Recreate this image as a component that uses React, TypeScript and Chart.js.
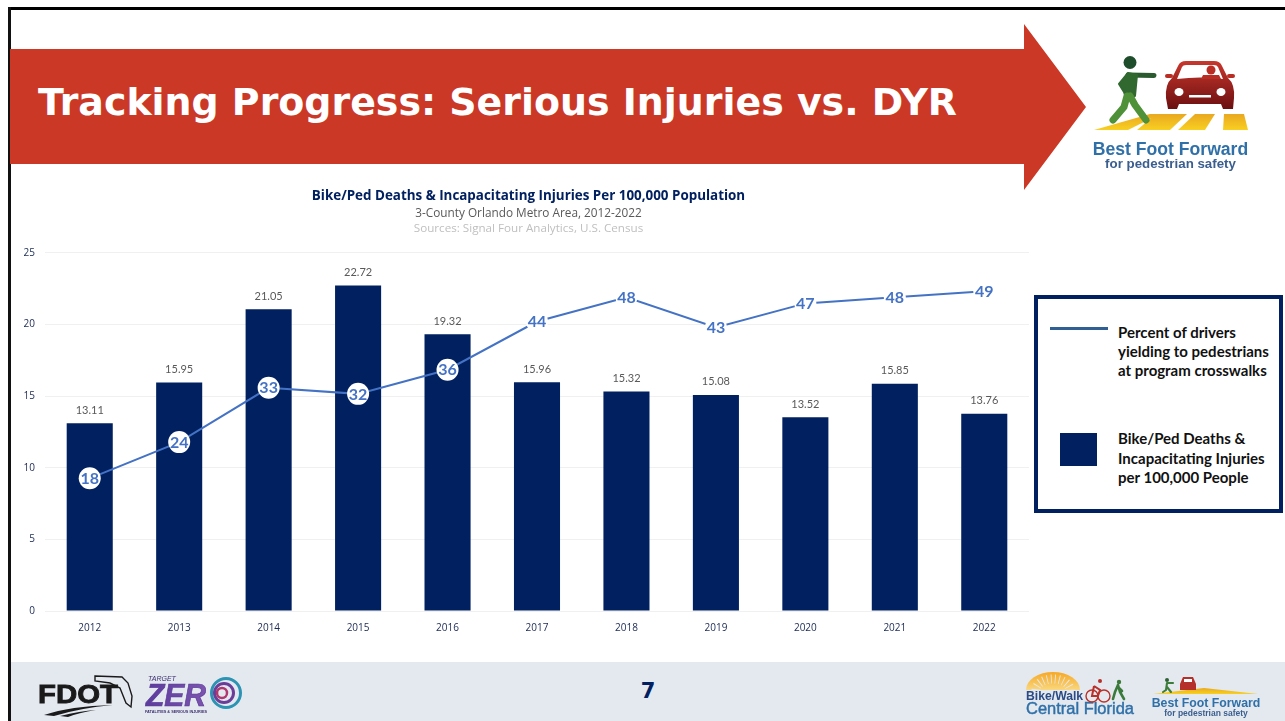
import React, { useEffect, useRef } from "react";
import { Chart, registerables } from "chart.js";

Chart.register(...registerables);

const years = ["2012", "2013", "2014", "2015", "2016", "2017", "2018", "2019", "2020", "2021", "2022"];
const injuryRates = [13.11, 15.95, 21.05, 22.72, 19.32, 15.96, 15.32, 15.08, 13.52, 15.85, 13.76];
const yieldingPercent = [18, 24, 33, 32, 36, 44, 48, 43, 47, 48, 49];
const yTicks = [0, 5, 10, 15, 20, 25];

const chartTitle = "Bike/Ped Deaths & Incapacitating Injuries Per 100,000 Population";
const chartSubtitle = "3-County Orlando Metro Area, 2012-2022";
const chartSources = "Sources: Signal Four Analytics, U.S. Census";
const lineLegend = ["Percent of drivers", "yielding to pedestrians", "at program crosswalks"];
const barLegend = ["Bike/Ped Deaths &", "Incapacitating Injuries", "per 100,000 People"];

const NAVY = "#002060";
const BLUE = "#4472C4";
const RED = "#CB3826";

const valueLabels = {
  id: "valueLabels",
  afterDatasetsDraw(chart: any) {
    const ctx = chart.ctx;
    ctx.save();
    ctx.textAlign = "center";
    ctx.textBaseline = "middle";
    ctx.font = "11px Lato";
    ctx.fillStyle = "#595959";
    chart.getDatasetMeta(0).data.forEach((el: any, i: number) => {
      ctx.fillText(injuryRates[i].toFixed(2), el.x, el.y - 13);
    });
    ctx.font = "bold 16px Lato";
    ctx.fillStyle = BLUE;
    chart.getDatasetMeta(1).data.forEach((el: any, i: number) => {
      ctx.fillText(String(yieldingPercent[i]), el.x, el.y + 0.5);
    });
    ctx.restore();
  },
};

function BestFootLogo() {
  return (
    <svg style={{ position: "absolute", left: 0, top: 0, filter: "blur(0.35px)" }} width={1285} height={721}>
      <defs>
        <linearGradient id="car" x1="0" y1="0" x2="0" y2="1">
          <stop offset="0" stopColor="#C8372D" />
          <stop offset="1" stopColor="#6B0F10" />
        </linearGradient>
        <linearGradient id="walk" x1="0" y1="0" x2="0" y2="1">
          <stop offset="0" stopColor="#E9A820" />
          <stop offset="1" stopColor="#F8D020" />
        </linearGradient>
        <linearGradient id="sun" x1="0" y1="0" x2="0" y2="1">
          <stop offset="0" stopColor="#F7A823" />
          <stop offset="1" stopColor="#F9D77E" />
        </linearGradient>
        <linearGradient id="zero" x1="0" y1="0" x2="1" y2="0">
          <stop offset="0" stopColor="#5B3B9B" />
          <stop offset="1" stopColor="#7D55B0" />
        </linearGradient>
      </defs>

      {/* crosswalk */}
      <polygon points="1094,130 1128,130 1160,114 1150,114" fill="url(#walk)" />
      <polygon points="1137,130 1170,130 1187,114 1156,114" fill="url(#walk)" />
      <polygon points="1178,130 1205,130 1215,114 1195,114" fill="url(#walk)" />
      <polygon points="1223,130 1248,130 1244,114 1224,114" fill="url(#walk)" />
      {/* pedestrian */}
      <circle cx={1130} cy={62.5} r={6.5} fill="#1E4D2B" />
      <path d="M1128 75 L1154 75.5" stroke="#2A5A2E" strokeWidth={5} strokeLinecap="round" fill="none" />
      <path d="M1119 84 L1128 73 L1137 75 L1135 96 L1126 98 L1124 92 Z" fill="#30682F" stroke="#30682F" strokeWidth={2} strokeLinejoin="round" />
      <path d="M1127 96 L1124 107 L1113 120 M1130 96 L1135 105 L1146 120" stroke="#4F9139" strokeWidth={7} strokeLinecap="round" strokeLinejoin="round" fill="none" />
      {/* car */}
      <path d="M1172 78 L1178 66 Q1180 61 1186 61 L1214 61 Q1220 61 1222 66 L1228 78 Q1235 84 1234 98 L1233 109 L1223 109 L1221 104 L1179 104 L1177 109 L1168 109 L1166 98 Q1165 84 1172 78 Z" fill="url(#car)" />
      <path d="M1177 79 L1182 67 Q1183 65 1186 65 L1214 65 Q1217 65 1218 67 L1223 79 Q1200 76 1177 79 Z" fill="#fff" />
      <circle cx={1211} cy={70} r={4.5} fill="#B92D25" />
      <path d="M1201 79 L1203 75 L1219 75 L1221 79 Z" fill="#B92D25" />
      <rect x={1165} y={74} width={8} height={4} rx={2} fill="#B92D25" />
      <rect x={1227} y={74} width={8} height={4} rx={2} fill="#B92D25" />
      <ellipse cx={1179} cy={92} rx={4.5} ry={4} fill="#fff" />
      <ellipse cx={1221} cy={92} rx={4.5} ry={4} fill="#fff" />
      <rect x={1189} y={95} width={22} height={2.5} fill="#fff" />
      <text x={1170.5} y={155} textAnchor="middle" fontFamily="Liberation Sans" fontWeight={700} fontSize={17.6} fill="#2F70A8">Best Foot Forward</text>
      <text x={1170.5} y={168} textAnchor="middle" fontFamily="Liberation Sans" fontWeight={700} fontSize={13.3} fill="#3A5E8E">for pedestrian safety</text>

      {/* FDOT */}
      <text x={38} y={703} fontFamily="Liberation Sans" fontWeight={700} fontSize={25} fill="#1A1A1A" stroke="#1A1A1A" strokeWidth={0.8} textLength={80} lengthAdjust="spacingAndGlyphs">FDOT</text>
      <path d="M95 676 L122 677 L128 683 L132 696 L131 707 L126 703 L120 688 L110 683 L95 681 Z" fill="none" stroke="#1A1A1A" strokeWidth={1.4} />
      <path d="M44 715 Q70 706 113 705 Q80 708 54 716 Z M60 716 Q80 711 96 710 Q78 713 68 717 Z" fill="#1A1A1A" />
      {/* Target Zero */}
      <text x={148} y={681} fontFamily="Liberation Sans" fontStyle="italic" fontSize={7} fill="#3B2E6E">TARGET</text>
      <text x={146} y={706} fontFamily="Liberation Sans" fontStyle="italic" fontWeight={900} fontSize={31} fill="url(#zero)" stroke="#5B3B9B" strokeWidth={0.7} textLength={60} lengthAdjust="spacingAndGlyphs">ZER</text>
      <circle cx={226} cy={693} r={14.5} fill="none" stroke="#2C93B3" strokeWidth={3} />
      <circle cx={224} cy={693} r={9.5} fill="none" stroke="#6A3E98" strokeWidth={3} />
      <circle cx={222} cy={693} r={5} fill="none" stroke="#B0386E" strokeWidth={2.5} />
      <text x={145} y={713} fontFamily="Liberation Sans" fontWeight={700} fontSize={4.4} fill="#3B2E6E" textLength={62} lengthAdjust="spacingAndGlyphs">FATALITIES &amp; SERIOUS INJURIES</text>

      {/* Bike/Walk Central Florida */}
      <path d="M1026 690 A27 18 0 0 1 1080 690 Z" fill="url(#sun)" />
      <path d="M1036 690 A17 11 0 0 1 1070 690" fill="none" stroke="#E4E9F0" strokeWidth={9} strokeDasharray="0.8 3.2" />
      <text x={1026} y={700} fontFamily="Liberation Sans" fontWeight={700} fontSize={12.2} fill="#2B4B85">Bike/Walk</text>
      <text x={1026} y={713.5} fontFamily="Liberation Sans" fontSize={17} fontWeight={400} stroke="#2F70A8" strokeWidth={0.45} fill="#2F70A8" textLength={108} lengthAdjust="spacingAndGlyphs">Central Florida</text>
      <circle cx={1092} cy={696} r={6} fill="none" stroke="#B8302A" strokeWidth={1.4} />
      <circle cx={1104} cy={696} r={6} fill="none" stroke="#B8302A" strokeWidth={1.4} />
      <path d="M1094 686 L1100 690 L1098 696 M1094 686 L1092 696 L1098 696" fill="none" stroke="#B8302A" strokeWidth={2} />
      <circle cx={1100} cy={681} r={2} fill="#B8302A" />
      <circle cx={1119} cy={682} r={2.2} fill="#3B7A3A" />
      <path d="M1118 685 L1115 692 L1113 699 M1118 685 L1120 692 L1124 699 M1118 687 L1122 691" stroke="#3B7A3A" strokeWidth={2.6} fill="none" strokeLinecap="round" />
      {/* small Best Foot Forward */}
      <polygon points="1153,694 1258,694 1204,688" fill="url(#walk)" />
      <circle cx={1167} cy={680} r={2} fill="#2E6233" />
      <path d="M1167 683 L1173 683 M1167 683 L1166 690 L1163 692 M1167 687 L1171 692" stroke="#3C7D3A" strokeWidth={2.1} fill="none" strokeLinecap="round" />
      <path d="M1180 684 L1183 677 L1193 677 L1196 684 L1196 690 L1180 690 Z" fill="#B5302A" />
      <rect x={1184} y={679} width={8} height={3} fill="#fff" />
      <text x={1206} y={707} textAnchor="middle" fontFamily="Liberation Sans" fontWeight={700} fontSize={12.3} fill="#2F70A8">Best Foot Forward</text>
      <text x={1206} y={716} textAnchor="middle" fontFamily="Liberation Sans" fontWeight={700} fontSize={8.5} fill="#3A5E8E">for pedestrian safety</text>
    </svg>
  );
}

function LegendLines({ lines, top, step }: { lines: string[]; top: number; step: number }) {
  return (
    <>
      {lines.map((line, i) => (
        <div
          key={line}
          style={{
            position: "absolute",
            left: 1118,
            top: top + i * step,
            font: "bold 15px/20px Lato",
            color: "#111",
            whiteSpace: "nowrap",
          }}
        >
          {line}
        </div>
      ))}
    </>
  );
}

export default function App() {
  const canvasRef = useRef<HTMLCanvasElement>(null);

  useEffect(() => {
    const chart = new Chart(canvasRef.current!, {
      type: "bar",
      plugins: [valueLabels],
      data: {
        labels: years,
        datasets: [
          {
            type: "bar",
            label: "Bike/Ped Deaths & Incapacitating Injuries per 100,000 People",
            data: injuryRates,
            backgroundColor: NAVY,
            categoryPercentage: 1,
            barPercentage: 0.515,
            yAxisID: "y",
            order: 2,
          },
          {
            type: "line",
            label: "Percent of drivers yielding to pedestrians at program crosswalks",
            data: yieldingPercent,
            borderColor: BLUE,
            borderWidth: 2,
            tension: 0,
            pointRadius: 11,
            pointBackgroundColor: "#fff",
            pointBorderColor: "#fff",
            pointBorderWidth: 0,
            yAxisID: "y1",
            order: 1,
          },
        ],
      } as any,
      options: {
        responsive: false,
        animation: false,
        layout: { padding: { left: 7, right: 0, top: 0, bottom: 0 } },
        plugins: {
          legend: { display: false },
          tooltip: { enabled: false },
          title: {
            display: true,
            text: chartTitle,
            color: NAVY,
            font: { family: "Open Sans", size: 13.4, weight: "bold", lineHeight: 1.2 },
            padding: { top: 5, bottom: 2 },
          },
          subtitle: {
            display: true,
            text: chartSubtitle,
            color: "#595959",
            font: { family: "Open Sans", size: 11.8, lineHeight: 1.2 },
            padding: { top: 0, bottom: 32.5 },
          },
        },
        scales: {
          x: {
            grid: { display: false },
            border: { display: false },
            ticks: { color: "#1B2A55", font: { family: "Open Sans", size: 10 }, padding: 3, maxRotation: 0 },
            afterFit(scale: any) {
              scale.height = 29;
            },
          },
          y: {
            min: 0,
            max: 25,
            afterBuildTicks(scale: any) {
              scale.ticks = yTicks.map((value) => ({ value }));
            },
            grid: { color: "#F0F0F0", lineWidth: 1, tickLength: 0 },
            border: { display: false },
            ticks: { color: "#1B2A55", font: { family: "Open Sans", size: 10 }, padding: 10 },
            afterFit(scale: any) {
              scale.width = 28;
            },
          },
          y1: {
            display: false,
            min: -4,
            max: 55.4,
          },
        },
      } as any,
    });
    return () => chart.destroy();
  }, []);

  return (
    <div style={{ position: "absolute", left: 0, top: 0, width: 1285, height: 721, overflow: "hidden", background: "#fff" }}>
      {/* slide border */}
      <div style={{ position: "absolute", left: 8, top: 7, width: 1277, height: 2.5, background: "#000" }} />
      <div style={{ position: "absolute", left: 8, top: 7, width: 2.5, height: 714, background: "#111" }} />

      {/* banner */}
      <svg style={{ position: "absolute", left: 0, top: 0 }} width={1285} height={200}>
        <polygon points="10,49 1024,49 1024,24 1086,107 1024,190 1024,164 10,164" fill={RED} />
      </svg>
      <div
        style={{
          position: "absolute",
          left: 38,
          top: 78,
          font: "bold 37.9px/48px 'DejaVu Sans'",
          color: "#fff",
          whiteSpace: "nowrap",
        }}
      >
        Tracking Progress: Serious Injuries vs. DYR
      </div>

      {/* footer */}
      <div style={{ position: "absolute", left: 10.5, top: 662, right: 0, bottom: 0, background: "#E4E9F0" }} />
      <div style={{ position: "absolute", left: 628, width: 40, top: 678, textAlign: "center", font: "bold 21px/26px 'DejaVu Sans'", color: NAVY }}>7</div>

      {/* chart */}
      <canvas ref={canvasRef} width={1030} height={457} style={{ position: "absolute", left: 10, top: 183 }} />
      <div style={{ position: "absolute", left: 10, width: 1037, top: 220, textAlign: "center", font: "11.65px/15px 'Open Sans'", color: "#BFBFBF" }}>{chartSources}</div>

      {/* legend box */}
      <div style={{ position: "absolute", left: 1034, top: 295, width: 249, height: 218, boxSizing: "border-box", border: "4px solid " + NAVY, background: "#fff" }} />
      <div style={{ position: "absolute", left: 1050, top: 327, width: 58, height: 3, background: "#2F5F93" }} />
      <div style={{ position: "absolute", left: 1060, top: 433, width: 37, height: 33, background: NAVY }} />
      <LegendLines lines={lineLegend} top={322} step={19} />
      <LegendLines lines={barLegend} top={428} step={19.7} />

      <BestFootLogo />
    </div>
  );
}
